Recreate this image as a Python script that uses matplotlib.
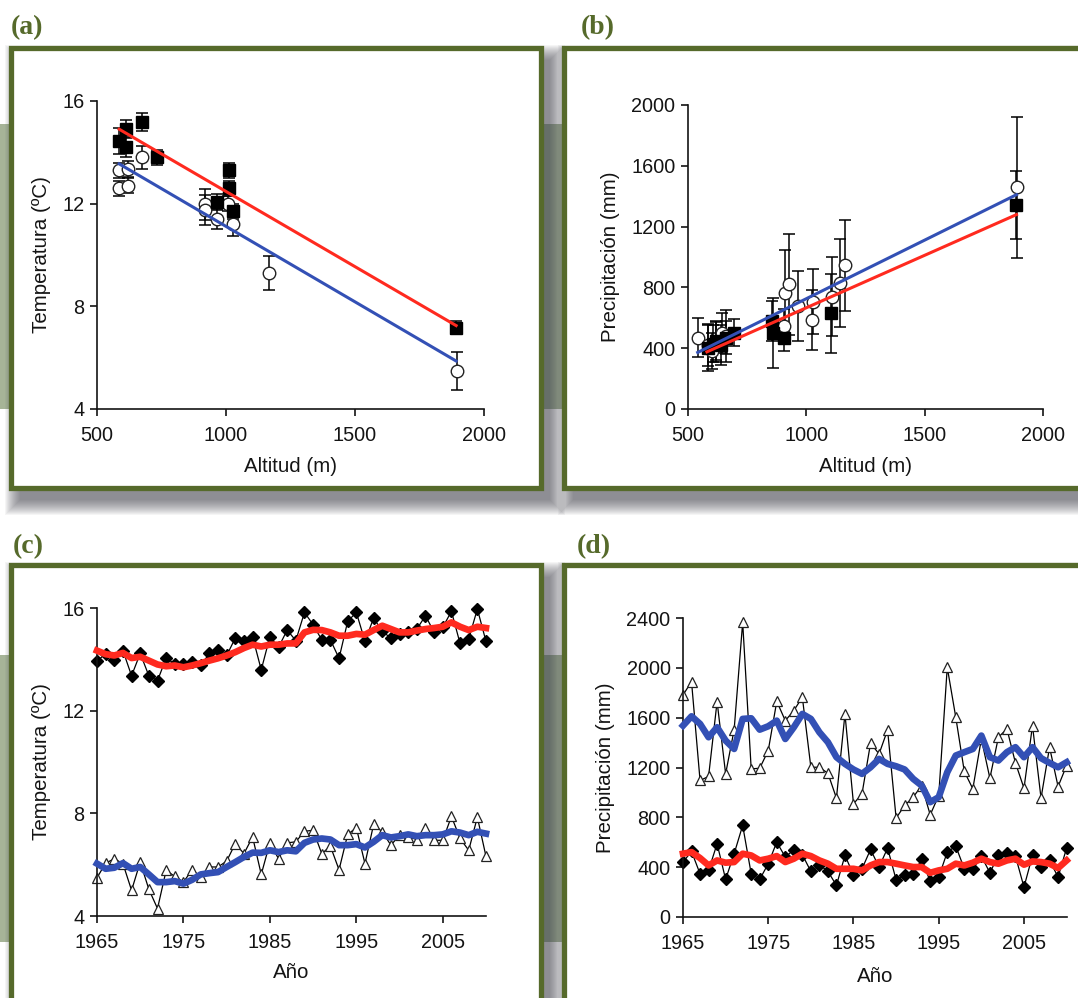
import matplotlib
matplotlib.use("Agg")
import matplotlib.pyplot as plt
from matplotlib.patches import Rectangle

# ---- panel (a): temperature vs altitude ----
alt_sq_a = [586, 613, 613, 676, 731, 964, 1011, 1011, 1027, 1892]
temp_sq_a = [14.45, 14.9, 14.2, 15.2, 13.8, 12.06, 13.3, 12.6, 11.7, 7.16]
err_sq_a = [0.5, 0.35, 0.4, 0.35, 0.3, 0.3, 0.3, 0.3, 0.3, 0.25]
alt_ci_a = [586, 586, 619, 619, 674, 917, 920, 967, 1006, 1028, 1166, 1896]
temp_ci_a = [13.3, 12.6, 13.35, 12.7, 13.8, 11.97, 11.75, 11.4, 12.0, 11.2, 9.3, 5.48]
err_ci_a = [0.3, 0.3, 0.3, 0.3, 0.45, 0.6, 0.6, 0.4, 0.3, 0.45, 0.65, 0.75]
fit_alt_a = [586, 1892]
fit_red_a = [14.9, 7.25]
fit_blue_a = [13.55, 5.87]

# ---- panel (b): precipitation vs altitude ----
alt_sq_b = [584, 605, 620, 640, 660, 693, 855, 858, 906, 1104, 1888]
prec_sq_b = [400, 430, 450, 420, 470, 503, 580, 503, 470, 630, 1341]
err_sq_b = [150, 120, 130, 130, 110, 90, 130, 230, 90, 260, 222]
alt_ci_b = [543, 584, 600, 620, 645, 660, 906, 910, 927, 964, 1022, 1029, 1107, 1143, 1164, 1890]
prec_ci_b = [470, 420, 380, 440, 500, 480, 546, 765, 820, 678, 586, 706, 737, 830, 946, 1459]
err_ci_b = [130, 140, 120, 130, 130, 170, 110, 280, 330, 230, 195, 215, 260, 290, 300, 464]
fit_alt_b_blue = [541, 1888]
fit_blue_b = [372, 1410]
fit_alt_b_red = [580, 1888]
fit_red_b = [376, 1279]

# ---- panels (c) and (d): yearly series ----
years = list(range(1965, 2011))
tmax = [13.95, 14.2, 13.98, 14.34, 13.36, 14.23, 13.36, 13.17, 14.05, 13.82,
        13.82, 13.89, 13.76, 14.23, 14.37, 14.15, 14.83, 14.73, 14.88, 13.59,
        14.88, 14.47, 15.14, 14.73, 15.83, 15.35, 14.76, 14.76, 14.04, 15.48,
        15.83, 14.70, 15.61, 15.09, 14.83, 14.99, 15.05, 15.18, 15.70, 15.05,
        15.25, 15.87, 14.62, 14.79, 15.96, 14.70]
tmax_smooth = [14.34, 14.2, 14.15, 14.25, 14.05, 14.1, 13.95, 13.8, 13.73, 13.76,
               13.69, 13.76, 13.85, 13.95, 14.04, 14.15, 14.28, 14.44, 14.57, 14.5,
               14.57, 14.57, 14.62, 14.62, 15.05, 15.15, 15.14, 15.05, 14.92, 14.92,
               14.99, 14.96, 15.14, 15.31, 15.18, 15.05, 15.05, 15.12, 15.18, 15.22,
               15.27, 15.44, 15.27, 15.14, 15.27, 15.22]
tmin = [5.49, 6.06, 6.23, 6.04, 5.0, 6.1, 5.04, 4.29, 5.78, 5.54,
        5.32, 5.8, 5.52, 5.91, 5.91, 6.14, 6.82, 6.43, 7.08, 5.62,
        6.85, 6.23, 6.85, 6.89, 7.3, 7.34, 6.43, 6.72, 5.8, 7.18,
        7.44, 6.04, 7.57, 7.28, 6.76, 7.15, 7.08, 6.98, 7.41, 6.95,
        6.95, 7.88, 7.02, 6.56, 7.85, 6.32]
tmin_smooth = [6.04, 5.84, 5.88, 6.06, 5.84, 5.91, 5.62, 5.32, 5.32, 5.36,
               5.26, 5.41, 5.62, 5.67, 5.71, 5.91, 6.1, 6.3, 6.47, 6.46,
               6.56, 6.49, 6.56, 6.52, 6.85, 6.98, 7.02, 6.98, 6.76, 6.76,
               6.8, 6.67, 6.89, 7.15, 7.06, 7.11, 7.18, 7.11, 7.15, 7.15,
               7.18, 7.3, 7.25, 7.15, 7.28, 7.21]
prec_high = [1782, 1889, 1096, 1128, 1729, 1149, 1504, 2365, 1189, 1194,
             1336, 1731, 1576, 1657, 1764, 1202, 1202, 1154, 954, 1630,
             908, 989, 1395, 1309, 1502, 794, 895, 962, 1055, 820,
             975, 2004, 1603, 1168, 1029, 1430, 1114, 1443, 1510, 1237,
             1034, 1536, 954, 1363, 1047, 1216]
prec_high_smooth = [1536, 1611, 1550, 1443, 1523, 1416, 1349, 1590, 1595, 1504,
                    1531, 1576, 1429, 1523, 1630, 1590, 1483, 1403, 1283, 1229,
                    1184, 1149, 1202, 1269, 1229, 1210, 1184, 1109, 1055, 922,
                    962, 1162, 1296, 1323, 1349, 1456, 1283, 1256, 1323, 1363,
                    1283, 1363, 1275, 1237, 1202, 1242]
prec_low = [441, 526, 347, 374, 588, 302, 508, 735, 347, 302,
            428, 601, 481, 540, 500, 366, 420, 366, 254, 494,
            339, 387, 542, 401, 553, 299, 339, 347, 462, 286,
            321, 521, 569, 387, 382, 489, 355, 494, 513, 489,
            240, 494, 401, 454, 321, 553]
prec_low_smooth = [508, 521, 473, 414, 454, 436, 441, 508, 494, 454,
                   468, 489, 441, 468, 508, 489, 454, 428, 387, 387,
                   387, 374, 414, 441, 441, 428, 414, 401, 401, 355,
                   374, 387, 428, 414, 436, 468, 441, 428, 454, 468,
                   420, 446, 441, 428, 393, 454]

OLIVE = '#566a2b'
BAND = '#a6b497'
RED = '#ff2a1f'
BLUE = '#3350b5'
INK = '#141414'

plt.rcParams['font.family'] = ['Liberation Sans', 'DejaVu Sans']


def draw_box(bg, x0, y0, x1, y1):
    w, h = x1 - x0, y1 - y0
    # soft drop shadow, offset down and right
    for k in range(16):
        bg.add_patch(Rectangle((x0 + 9 - k, y0 + 12 - k), w + 2 * k, h + 2 * k,
                               facecolor='#40444e', edgecolor='none', alpha=0.05))
    bg.add_patch(Rectangle((x0, y0), w, h, facecolor='white', edgecolor=OLIVE,
                           linewidth=3.8))


def style_axis(ax, xlim, ylim, xticks, yticks, xlabel, ylabel):
    ax.set_facecolor('none')
    ax.set_xlim(*xlim)
    ax.set_ylim(*ylim)
    ax.set_xticks(xticks)
    ax.set_yticks(yticks)
    for s in ['top', 'right']:
        ax.spines[s].set_visible(False)
    for s in ['left', 'bottom']:
        ax.spines[s].set_linewidth(1.2)
        ax.spines[s].set_color(INK)
    ax.tick_params(direction='out', length=5, width=1.2, labelsize=14.3,
                   colors=INK)
    ax.tick_params(axis='x', pad=7)
    ax.tick_params(axis='y', pad=4)
    ax.set_xlabel(xlabel, fontsize=14.8, color=INK, labelpad=9)
    ax.set_ylabel(ylabel, fontsize=14.8, color=INK, labelpad=8)


fig = plt.figure(figsize=(10.78, 9.98), dpi=100)
bg = fig.add_axes([0, 0, 1, 1])
bg.set_xlim(0, 1078)
bg.set_ylim(998, 0)
bg.axis('off')

# grey-green bands behind the boxes
bg.add_patch(Rectangle((0, 124), 1078, 285, facecolor=BAND, edgecolor='none'))
bg.add_patch(Rectangle((0, 655), 1078, 287, facecolor=BAND, edgecolor='none'))

draw_box(bg, 10.5, 47.5, 540.5, 487.5)
draw_box(bg, 563.5, 47.5, 1100, 487.5)
draw_box(bg, 10.5, 564.5, 540.5, 1030)
draw_box(bg, 563.5, 564.5, 1100, 1030)

for lab, x, y in [('(a)', 11, 28), ('(b)', 581, 28), ('(c)', 13, 547), ('(d)', 577, 547)]:
    bg.text(x, y, lab, fontsize=20, fontweight='bold', color=OLIVE,
            family=['Liberation Serif', 'DejaVu Serif'], va='center', ha='left')

# ---- (a) ----
ax = fig.add_axes([97 / 1078, 1 - 409 / 998, 387 / 1078, 308 / 998])
style_axis(ax, (500, 2000), (4, 16), [500, 1000, 1500, 2000], [4, 8, 12, 16],
           'Altitud (m)', 'Temperatura (ºC)')
ax.errorbar(alt_ci_a, temp_ci_a, yerr=err_ci_a, fmt='none', ecolor='black',
            elinewidth=1.1, capsize=4, capthick=1.1, clip_on=False)
ax.errorbar(alt_sq_a, temp_sq_a, yerr=err_sq_a, fmt='none', ecolor='black',
            elinewidth=1.1, capsize=4, capthick=1.1, clip_on=False)
ax.plot(alt_ci_a, temp_ci_a, 'o', ms=9, mfc='white', mec='#222222', mew=1.0,
        clip_on=False)
ax.plot(alt_sq_a, temp_sq_a, 's', ms=8.5, mfc='black', mec='black', clip_on=False)
ax.plot(fit_alt_a, fit_red_a, color=RED, lw=2.2, zorder=5)
ax.plot(fit_alt_a, fit_blue_a, color=BLUE, lw=2.2, zorder=5)

# ---- (b) ----
ax = fig.add_axes([688 / 1078, 1 - 409 / 998, 355 / 1078, 304 / 998])
style_axis(ax, (500, 2000), (0, 2000), [500, 1000, 1500, 2000],
           [0, 400, 800, 1200, 1600, 2000], 'Altitud (m)', 'Precipitación (mm)')
ax.errorbar(alt_ci_b, prec_ci_b, yerr=err_ci_b, fmt='none', ecolor='black',
            elinewidth=1.1, capsize=4, capthick=1.1, clip_on=False)
ax.errorbar(alt_sq_b, prec_sq_b, yerr=err_sq_b, fmt='none', ecolor='black',
            elinewidth=1.1, capsize=4, capthick=1.1, clip_on=False)
ax.plot(alt_ci_b, prec_ci_b, 'o', ms=9, mfc='white', mec='#222222', mew=1.0,
        clip_on=False)
ax.plot(alt_sq_b, prec_sq_b, 's', ms=8.5, mfc='black', mec='black', clip_on=False)
ax.plot(fit_alt_b_red, fit_red_b, color=RED, lw=2.2, zorder=5)
ax.plot(fit_alt_b_blue, fit_blue_b, color=BLUE, lw=2.2, zorder=5)

# ---- (c) ----
ax = fig.add_axes([97 / 1078, 1 - 916 / 998, 389 / 1078, 308 / 998])
style_axis(ax, (1965, 2010), (4, 16), [1965, 1975, 1985, 1995, 2005],
           [4, 8, 12, 16], 'Año', 'Temperatura (ºC)')
ax.xaxis.labelpad = 8
ax.plot(years, tmax, '-D', color='black', lw=0.9, ms=6.5, clip_on=False)
ax.plot(years, tmin, '-^', color='black', lw=0.9, ms=7.5, mfc='white',
        mec='#222222', mew=0.9, clip_on=False)
ax.plot(years, tmax_smooth, color=RED, lw=4.8, zorder=5, clip_on=False)
ax.plot(years, tmin_smooth, color=BLUE, lw=4.8, zorder=5, clip_on=False)

# ---- (d) ----
ax = fig.add_axes([683 / 1078, 1 - 917 / 998, 383.6 / 1078, 299 / 998])
style_axis(ax, (1965, 2010), (0, 2400), [1965, 1975, 1985, 1995, 2005],
           [0, 400, 800, 1200, 1600, 2000, 2400], 'Año', 'Precipitación (mm)')
ax.xaxis.labelpad = 10
ax.plot(years, prec_high, '-^', color='black', lw=0.9, ms=7.5, mfc='white',
        mec='#222222', mew=0.9, clip_on=False)
ax.plot(years, prec_low, '-D', color='black', lw=0.9, ms=6.5, clip_on=False)
ax.plot(years, prec_high_smooth, color=BLUE, lw=4.8, zorder=5, clip_on=False)
ax.plot(years, prec_low_smooth, color=RED, lw=4.8, zorder=5, clip_on=False)

fig.savefig('out.png', dpi=100)
